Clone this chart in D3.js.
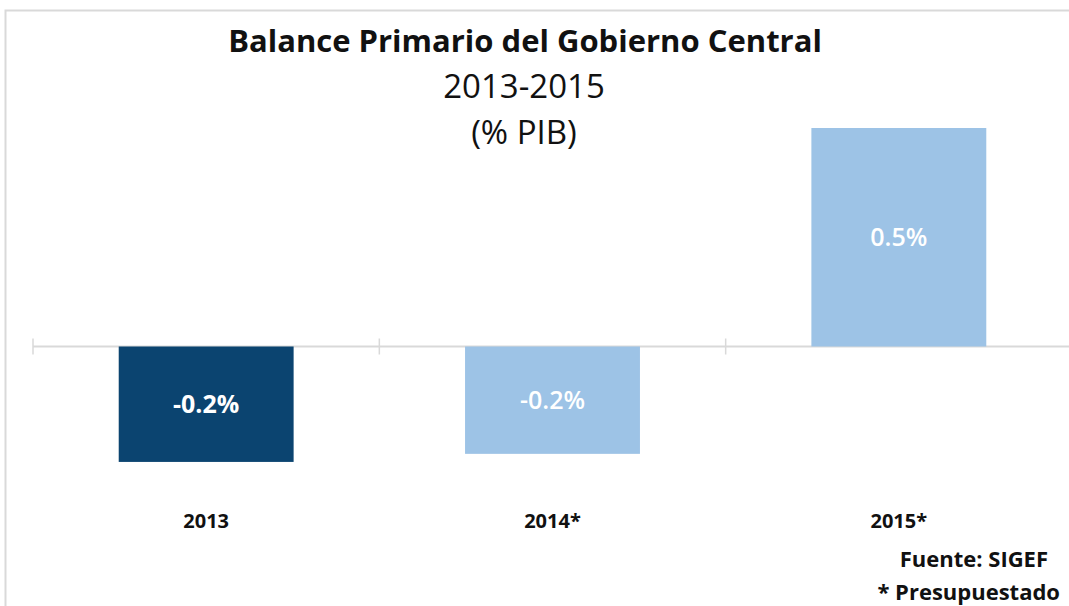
<!DOCTYPE html>
<meta charset="utf-8">
<style>
  body { margin: 0; background: #fff; }
  text { font-family: "Open Sans", "Noto Sans", sans-serif; }
</style>
<svg width="1069" height="606"></svg>
<script src="https://d3js.org/d3.v7.min.js"></script>
<script>
  // Data
  var years = ["2013", "2014*", "2015*"];
  var balance = [-0.243, -0.226, 0.46];
  var barColors = ["#0b4470", "#9dc3e6", "#9dc3e6"];

  var svg = d3.select("svg"),
    margin = { top: 109, right: -3, bottom: 117, left: 33 },
    width = +svg.attr("width") - margin.left - margin.right,
    height = +svg.attr("height") - margin.top - margin.bottom;

  // chart frame (top and left edge visible)
  svg.append("path")
    .attr("d", "M5.5,606V10.5H1069")
    .attr("fill", "none")
    .attr("stroke", "#d9d9d9")
    .attr("stroke-width", 2);

  var g = svg.append("g")
    .attr("transform", "translate(" + margin.left + "," + margin.top + ")");

  var x = d3.scaleBand()
    .domain(years)
    .range([0, width])
    .paddingInner(0.495)
    .paddingOuter(0.2475);

  var y = d3.scaleLinear()
    .domain([0.5, -0.3])
    .range([0, height]);

  // zero axis with ticks between categories
  var step = x.step();
  var axis = g.append("g").attr("transform", "translate(0," + y(0) + ")");
  axis.append("line")
    .attr("x1", 0).attr("x2", width)
    .attr("stroke", "#d9d9d9").attr("stroke-width", 2);
  axis.selectAll(".tick")
    .data(d3.range(years.length + 1))
    .enter().append("line")
    .attr("x1", function(i) { return i * step; })
    .attr("x2", function(i) { return i * step; })
    .attr("y1", -8).attr("y2", 8)
    .attr("stroke", "#d9d9d9").attr("stroke-width", 1.5);

  // bars
  g.selectAll(".bar")
    .data(balance)
    .enter().append("rect")
    .attr("x", function(d, i) { return x(years[i]); })
    .attr("y", function(d) { return y(Math.max(0, d)); })
    .attr("width", x.bandwidth())
    .attr("height", function(d) { return Math.abs(y(d) - y(0)); })
    .attr("fill", function(d, i) { return barColors[i]; });

  // value labels (plain hyphen as minus sign)
  var fmt = d3.formatLocale({ decimal: ".", thousands: ",", grouping: [3], currency: ["", ""], minus: "-" }).format(".1f");
  g.selectAll(".val")
    .data(balance)
    .enter().append("text")
    .attr("x", function(d, i) { return x(years[i]) + x.bandwidth() / 2; })
    .attr("y", function(d) { return (y(d) + y(0)) / 2; })
    .attr("dy", "0.36em")
    .attr("text-anchor", "middle")
    .attr("fill", "#fff")
    .attr("font-size", 25)
    .attr("font-weight", function(d, i) { return i === 0 ? "bold" : "600"; })
    .text(function(d) { return fmt(d) + "%"; });

  // category labels
  g.selectAll(".cat")
    .data(years)
    .enter().append("text")
    .attr("x", function(d) { return x(d) + x.bandwidth() / 2; })
    .attr("y", 412)
    .attr("dy", "0.36em")
    .attr("text-anchor", "middle")
    .attr("font-size", 20)
    .attr("font-weight", "bold")
    .attr("fill", "#111")
    .text(function(d) { return d; });

  // titles
  svg.append("text")
    .attr("x", 525).attr("y", 52)
    .attr("text-anchor", "middle")
    .attr("font-size", 31)
    .attr("font-weight", "bold")
    .attr("fill", "#111")
    .text("Balance Primario del Gobierno Central");
  svg.append("text")
    .attr("x", 524).attr("y", 98)
    .attr("text-anchor", "middle")
    .attr("font-size", 33)
    .attr("fill", "#111")
    .text("2013-2015");
  svg.append("text")
    .attr("x", 524).attr("y", 144)
    .attr("text-anchor", "middle")
    .attr("font-size", 33)
    .attr("fill", "#111")
    .text("(% PIB)");

  // notes
  svg.append("text")
    .attr("x", 1048).attr("y", 567)
    .attr("text-anchor", "end")
    .attr("font-size", 22).attr("font-weight", "bold").attr("fill", "#111")
    .text("Fuente: SIGEF");
  svg.append("text")
    .attr("x", 1060).attr("y", 600)
    .attr("text-anchor", "end")
    .attr("font-size", 22).attr("font-weight", "bold").attr("fill", "#111")
    .text("* Presupuestado");
</script>
